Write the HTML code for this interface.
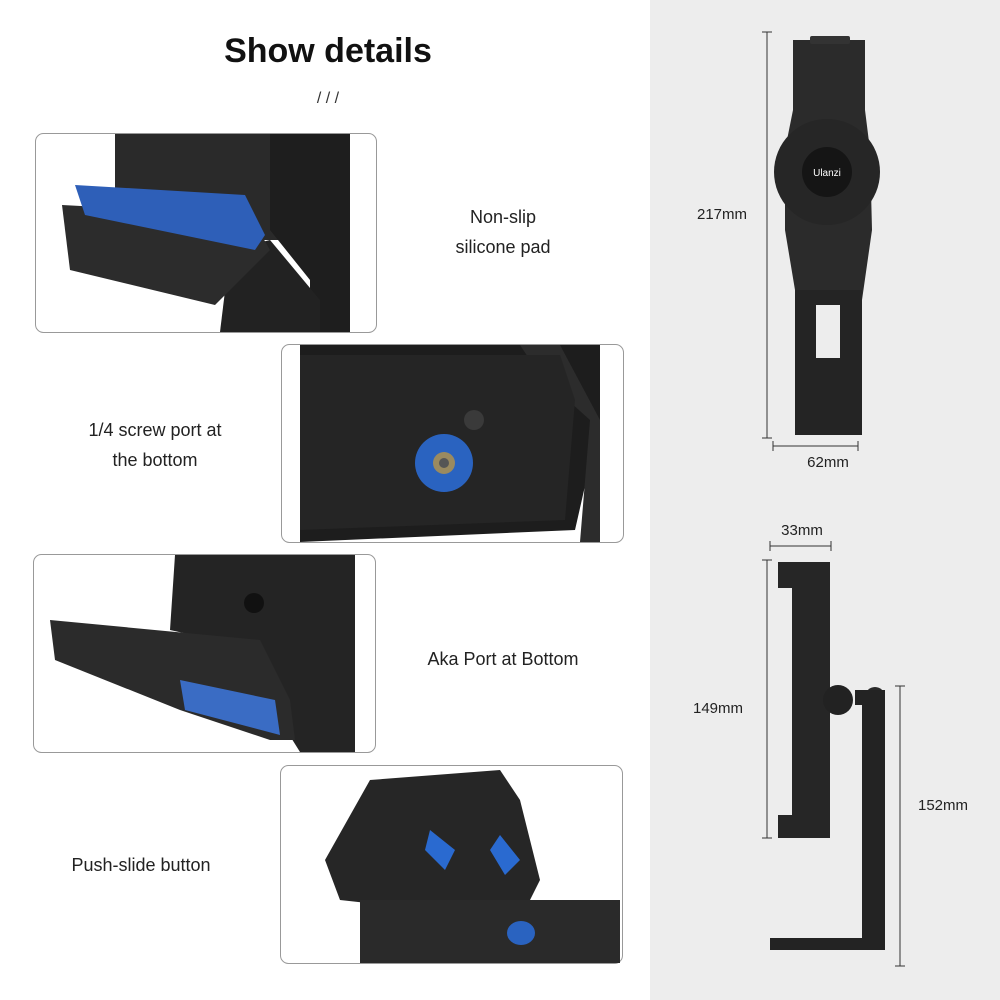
<!DOCTYPE html>
<html><head><meta charset="utf-8"><style>
body{margin:0;width:1000px;height:1000px;background:#fff;font-family:"Liberation Sans",sans-serif;overflow:hidden;position:relative}
.t{position:absolute;color:#222;font-size:18px;text-align:center;line-height:30px}
</style></head><body>
<svg width="1000" height="1000" style="position:absolute;left:0;top:0">
<rect x="650" y="0" width="350" height="1000" fill="#ededed"/>
<text x="328" y="62" font-size="34" font-weight="bold" text-anchor="middle" font-family="Liberation Sans" fill="#111">Show details</text>
<text x="328" y="103" font-size="16" text-anchor="middle" fill="#333" font-family="Liberation Sans">/ / /</text>
<!-- panel 1 -->
<rect x="35.5" y="133.5" width="341" height="199" rx="8" fill="#fff" stroke="#999"/>
<path d="M115 134 H305 V240 H115Z" fill="#2a2a2a"/>
<path d="M320 134 H350 V332 H310 V280 L270 230 V134Z" fill="#1e1e1e"/>
<path d="M220 332 L230 250 L270 240 L320 300 V332Z" fill="#222"/>
<path d="M62 205 L250 215 L270 250 L215 305 L70 270Z" fill="#2c2c2c"/>
<path d="M75 185 L245 195 L265 235 L255 250 L85 215Z" fill="#2e5fb8"/>
<!-- panel 2 -->
<rect x="281.5" y="344.5" width="342" height="198" rx="8" fill="#fff" stroke="#999"/>
<path d="M300 345 H600 L600 420 L575 530 L300 542Z" fill="#1d1d1d"/>
<path d="M520 345 H560 L600 420 V542 H580 L590 420 L540 375Z" fill="#2c2c2c"/>
<path d="M300 355 H560 L575 400 L565 520 L300 530Z" fill="#252525"/>
<circle cx="444" cy="463" r="29" fill="#2a63c0"/>
<circle cx="444" cy="463" r="11" fill="#9a8a60"/>
<circle cx="444" cy="463" r="5" fill="#555"/>
<circle cx="474" cy="420" r="10" fill="#3a3a3a"/>
<!-- panel 3 -->
<rect x="33.5" y="554.5" width="342" height="198" rx="8" fill="#fff" stroke="#999"/>
<path d="M175 555 H355 V752 H300 L280 720 L260 650 L170 630Z" fill="#242424"/>
<path d="M50 620 L260 640 L290 700 L295 740 L270 740 L180 710 L55 660Z" fill="#2b2b2b"/>
<path d="M180 680 L275 700 L280 735 L185 710Z" fill="#3a6cc4"/>
<circle cx="254" cy="603" r="10" fill="#111"/>
<!-- panel 4 -->
<rect x="280.5" y="765.5" width="342" height="198" rx="8" fill="#fff" stroke="#999"/>
<path d="M325 860 L370 780 L500 770 L520 800 L540 880 L520 920 L340 900Z" fill="#262626"/>
<path d="M360 900 H620 V963 H360Z" fill="#2a2a2a"/>
<path d="M430 830 L455 850 L445 870 L425 850Z" fill="#2a6ad0"/>
<path d="M500 835 L520 860 L505 875 L490 850Z" fill="#2a6ad0"/>
<ellipse cx="521" cy="933" rx="14" ry="12" fill="#2a63c0"/>
<!-- right top device -->
<path d="M793 40 H865 V110 L870 150 L872 230 L862 300 V290 H795 L785 230 L785 150 L793 110Z" fill="#2b2b2b"/>
<rect x="810" y="36" width="40" height="8" rx="2" fill="#333"/>
<circle cx="827" cy="172" r="53" fill="#262626"/>
<circle cx="827" cy="172" r="25" fill="#151515"/>
<text x="827" y="176" font-size="10" fill="#fff" text-anchor="middle" font-family="Liberation Sans">Ulanzi</text>
<path d="M795 290 H862 V435 H795Z" fill="#242424"/>
<rect x="816" y="305" width="24" height="53" fill="#ededed"/>
<line x1="767" y1="32" x2="767" y2="438" stroke="#333"/>
<line x1="762" y1="32" x2="772" y2="32" stroke="#333"/><line x1="762" y1="438" x2="772" y2="438" stroke="#333"/>
<text x="722" y="219" font-size="15" text-anchor="middle" fill="#222" font-family="Liberation Sans">217mm</text>
<line x1="773" y1="446" x2="858" y2="446" stroke="#333"/>
<line x1="773" y1="441" x2="773" y2="451" stroke="#333"/><line x1="858" y1="441" x2="858" y2="451" stroke="#333"/>
<text x="828" y="467" font-size="15" text-anchor="middle" fill="#222" font-family="Liberation Sans">62mm</text>
<!-- right bottom device -->
<line x1="770" y1="546" x2="831" y2="546" stroke="#333"/>
<line x1="770" y1="541" x2="770" y2="551" stroke="#333"/><line x1="831" y1="541" x2="831" y2="551" stroke="#333"/>
<text x="802" y="535" font-size="15" text-anchor="middle" fill="#222" font-family="Liberation Sans">33mm</text>
<line x1="767" y1="560" x2="767" y2="838" stroke="#333"/>
<line x1="762" y1="560" x2="772" y2="560" stroke="#333"/><line x1="762" y1="838" x2="772" y2="838" stroke="#333"/>
<text x="718" y="713" font-size="15" text-anchor="middle" fill="#222" font-family="Liberation Sans">149mm</text>
<path d="M778 562 H830 V838 H778 V815 H792 V588 H778Z" fill="#262626"/>
<circle cx="838" cy="700" r="15" fill="#222"/>
<circle cx="875" cy="697" r="10" fill="#2a2a2a"/>
<path d="M855 690 H885 V950 H770 V938 H862 V705 H855Z" fill="#232323"/>
<line x1="900" y1="686" x2="900" y2="966" stroke="#333"/>
<line x1="895" y1="686" x2="905" y2="686" stroke="#333"/><line x1="895" y1="966" x2="905" y2="966" stroke="#333"/>
<text x="943" y="810" font-size="15" text-anchor="middle" fill="#222" font-family="Liberation Sans">152mm</text>
</svg>
<div class="t" style="left:400px;top:202px;width:206px">Non-slip<br>silicone pad</div>
<div class="t" style="left:50px;top:415px;width:210px">1/4 screw port at<br>the bottom</div>
<div class="t" style="left:400px;top:644px;width:206px">Aka Port at Bottom</div>
<div class="t" style="left:40px;top:850px;width:202px">Push-slide button</div>
</body></html>
